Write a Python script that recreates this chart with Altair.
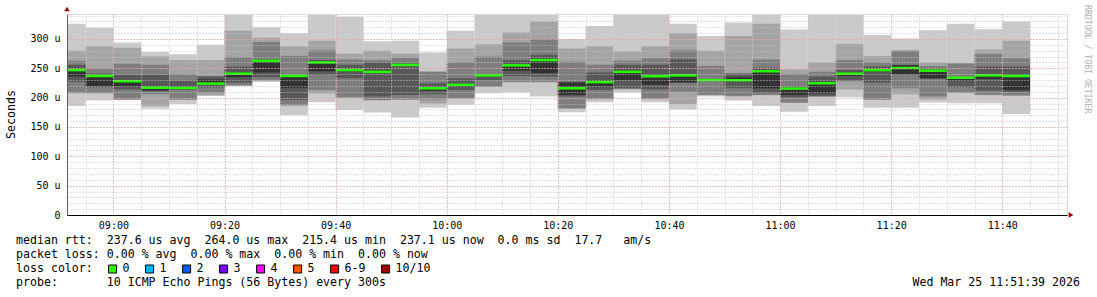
import altair as alt
import pandas as pd

# ---------------- data ----------------
graph_start = "08:51:39"
graph_end = "11:51:39"

bin_start = ["08:50", "08:55", "09:00", "09:05", "09:10", "09:15", "09:20", "09:25", "09:30",
             "09:35", "09:40", "09:45", "09:50", "09:55", "10:00", "10:05", "10:10", "10:15",
             "10:20", "10:25", "10:30", "10:35", "10:40", "10:45", "10:50", "10:55", "11:00",
             "11:05", "11:10", "11:15", "11:20", "11:25", "11:30", "11:35", "11:40"]

# sorted ping round-trip times per 5-minute bin (microseconds)
ping1 = [186, 195, 196, 181, 189, 203, 220, 227, 170, 192, 179, 174.5, 166, 183, 188, 207.5, 209, 202,
         175, 192, 208.6, 192, 180, 202, 195, 186, 176, 186, 200.6, 183, 183, 191.6, 190.5, 190.5, 172]
ping2 = [207, 207, 196.5, 186, 196, 204, 220.5, 228, 186, 207, 200, 195, 196, 190, 198, 218, 226, 226,
         181, 197, 214, 197, 189, 204, 202, 204, 191, 201, 214, 196, 206, 197, 208, 204, 203]
ping3 = [209, 208, 197, 206, 197, 208.5, 221, 230, 187.5, 213, 200.6, 196, 197, 197, 199, 219, 227, 227,
         182, 198, 215, 198, 210, 205, 203, 204.6, 191.6, 202, 228, 197, 216, 202, 208.6, 205, 204]
ping4 = [227, 218, 214, 211, 213, 217.6, 225.5, 235, 196, 239, 233, 202, 204.6, 206, 213, 230, 237, 236,
         202, 213, 216, 214, 225, 228, 216, 208, 200.6, 203, 229, 225.6, 239, 232, 218, 212, 210]
ping5 = [236, 220, 219, 212, 215, 222, 235, 243, 217, 245, 245, 243, 255, 212, 219, 237.5, 246, 242,
         205, 219, 230, 222, 226, 229, 227, 216, 204.6, 207.5, 237, 245, 240, 233, 229, 232, 213]
ping6 = [249, 239, 230, 218, 218, 231, 243, 264, 238, 262, 249, 246, 257, 218, 224, 238.5, 256, 266,
         226, 229, 246, 238, 240, 231, 234.7, 247, 217, 227, 243, 249, 255.5, 247, 235, 240, 240]
ping7 = [256, 241, 239, 239, 229, 236, 253, 266, 239, 264, 256, 260, 258.6, 224.5, 233, 240, 264, 273,
         227, 243, 256, 256, 265, 231.5, 241, 251, 218.5, 236, 247, 253, 256, 250, 235.5, 253, 253]
ping8 = [263, 250, 258, 256, 240, 237, 269, 295, 271, 281, 265, 264, 268, 244, 260, 270, 294, 300,
         261, 256, 263, 267, 281, 254, 241.5, 265, 240, 244, 264, 260, 280, 254, 258, 274.5, 267]
ping9 = [280, 287, 285, 270, 264, 264, 314, 302, 287, 297, 275, 280, 275, 245, 284, 291, 311, 330,
         284, 287, 279, 287, 310, 280, 305, 326, 248, 260, 291.5, 271, 281, 260, 259, 282, 297]
ping10 = [326, 319, 294, 278, 274, 290, 341, 320, 310, 341, 338, 296, 297, 277, 314, 341, 341, 341,
          300, 322, 341, 341, 326, 305, 328, 341, 316, 341, 341, 307, 301, 315, 326, 316.5, 330]
median_rtt = [247, 237, 228, 217, 216.5, 224, 241, 263, 237, 260, 247, 244, 255.7, 216, 222, 238, 255, 264,
              216, 226.5, 244, 236.5, 238, 230, 229.6, 245, 215.5, 224.5, 241, 247, 250.6, 246, 234, 238, 237]

y_ticks = [0, 50, 100, 150, 200, 250, 300]
y_max = 342.6

loss_labels = ["0", "1", "2", "3", "4", "5", "6-9", "10/10"]
loss_colors = ["#26ff00", "#00b8ff", "#0059ff", "#7e00ff", "#ff00ff", "#ff5500", "#ff0000", "#a10000"]

legend_lines = [
    "median rtt:  237.6 us avg  264.0 us max  215.4 us min  237.1 us now  0.0 ms sd  17.7   am/s",
    "packet loss: 0.00 % avg  0.00 % max  0.00 % min  0.00 % now",
    "loss color:",
    "probe:       10 ICMP Echo Pings (56 Bytes) every 300s",
]
stamp = "Wed Mar 25 11:51:39 2026"
watermark = "RRDTOOL / TOBI OETIKER"

# ---------------- styling ----------------
MONO = "DejaVu Sans Mono"
SHADES = ["#cacaca", "#a4a4a4", "#7e7e7e", "#585858", "#323232"]
MINOR_GRID = "#c4c4c4"
MAJOR_GRID = "#f2a0a0"
ARROW = "#990000"
NB = "\u00a0"


def hm(s):
    p = [int(v) for v in s.split(":")]
    return p[0] * 60 + p[1] + (p[2] / 60 if len(p) > 2 else 0)


T0, T1 = hm(graph_start), hm(graph_end)
pings = [ping1, ping2, ping3, ping4, ping5, ping6, ping7, ping8, ping9, ping10]

rows = []
for i, s in enumerate(bin_start):
    t = hm(s)
    for b in range(5):
        rows.append({"t0": t, "t1": t + 5, "lo": pings[b][i], "hi": pings[9 - b][i], "band": b})
smoke = pd.DataFrame(rows)
med = pd.DataFrame({"t0": [hm(s) for s in bin_start],
                    "t1": [hm(s) + 5 for s in bin_start],
                    "med": median_rtt})

xs = alt.Scale(domain=[T0, T1], nice=False, zero=False)
ys = alt.Scale(domain=[0, y_max], nice=False, zero=True)

minor_x = alt.Axis(values=list(range(535, 711, 5)), grid=True, gridColor=MINOR_GRID, gridDash=[1, 2],
                   labels=False, ticks=False, domain=False, orient="bottom", zindex=1, title=None)
minor_y = alt.Axis(values=list(range(0, 341, 10)), grid=True, gridColor=MINOR_GRID, gridDash=[1, 2],
                   labels=False, ticks=False, domain=False, orient="left", zindex=1, title=None)

x_label = ("(floor(datum.value/60) < 10 ? '0' : '') + floor(datum.value/60) + ':' + "
           "(datum.value % 60 < 10 ? '0' : '') + (datum.value % 60)")
major_x = alt.Axis(values=list(range(540, 711, 20)), grid=True, gridColor=MAJOR_GRID, gridDash=[1, 2],
                   labelExpr=x_label, labelFont=MONO, labelFontSize=10, labelColor="#000000",
                   labelPadding=5, ticks=False, tickSize=0, domain=True, domainColor="#000000",
                   domainWidth=1, orient="bottom", zindex=1, labelOverlap=False, labelFlush=False,
                   title=None)
y_label = "datum.value == 0 ? '0" + NB + NB + "' : datum.value + '" + NB + "u'"
major_y = alt.Axis(values=y_ticks, grid=True, gridColor=MAJOR_GRID, gridDash=[1, 2],
                   labelExpr=y_label, labelFont=MONO, labelFontSize=10, labelColor="#000000",
                   labelPadding=7, ticks=False, tickSize=0, domain=True, domainColor="#606060",
                   domainWidth=1, orient="left", zindex=1, labelOverlap=False, labelFlush=False,
                   title="Seconds", titleFont=MONO, titleFontSize=11.6, titleFontWeight="normal",
                   titleColor="#000000", titleAngle=270, titleAlign="center", titleBaseline="middle",
                   titleX=-56, titleY=100)

smoke_layer = alt.Chart(smoke).mark_rect(clip=True).encode(
    x=alt.X("t0:Q", scale=xs, axis=minor_x),
    x2="t1:Q",
    y=alt.Y("lo:Q", scale=ys, axis=minor_y),
    y2="hi:Q",
    color=alt.Color("band:O", scale=alt.Scale(domain=[0, 1, 2, 3, 4], range=SHADES), legend=None),
    order=alt.Order("band:Q", sort="ascending"),
)

median_layer = alt.Chart(med).mark_rule(clip=True, color=loss_colors[0], strokeWidth=2.5).encode(
    x=alt.X("t0:Q", scale=xs, axis=major_x),
    x2="t1:Q",
    y=alt.Y("med:Q", scale=ys, axis=major_y),
)

one = pd.DataFrame({"k": [0]})
decor = []

# axis arrows
decor.append(alt.Chart(one).mark_point(shape="triangle-up", filled=True, color=ARROW, size=30, opacity=1)
             .encode(x=alt.value(0), y=alt.value(-5)))
decor.append(alt.Chart(one).mark_point(shape="triangle-right", filled=True, color=ARROW, size=30, opacity=1)
             .encode(x=alt.value(1004), y=alt.value(201)))

# legend text lines
for j, line in enumerate(legend_lines):
    decor.append(alt.Chart(pd.DataFrame({"t": [line.replace(" ", NB)]})).mark_text(
        align="left", baseline="middle", font=MONO, fontSize=11.6, color="#000000"
    ).encode(x=alt.value(-51), y=alt.value(227 + 14 * j), text="t:N"))

# loss colour swatches
left = 108.6 - 67
for lab, col in zip(loss_labels, loss_colors):
    decor.append(alt.Chart(one).mark_rect(fill=col, stroke="#000000", strokeWidth=1).encode(
        x=alt.value(left), x2=alt.value(left + 8), y=alt.value(251), y2=alt.value(259)))
    decor.append(alt.Chart(pd.DataFrame({"t": [lab]})).mark_text(
        align="left", baseline="middle", font=MONO, fontSize=11.6, color="#000000"
    ).encode(x=alt.value(left + 14), y=alt.value(255), text="t:N"))
    left += 30 + 7 * len(lab)

# timestamp
decor.append(alt.Chart(pd.DataFrame({"t": [stamp]})).mark_text(
    align="right", baseline="middle", font=MONO, fontSize=11.6, color="#000000"
).encode(x=alt.value(1013), y=alt.value(269), text="t:N"))

# watermark
decor.append(alt.Chart(pd.DataFrame({"t": [watermark]})).mark_text(
    align="left", baseline="middle", font=MONO, fontSize=8.2, color="#b0b0b0", angle=90
).encode(x=alt.value(1020), y=alt.value(-9), text="t:N"))

chart = alt.layer(smoke_layer, median_layer, *decor).resolve_axis(
    x="independent", y="independent"
).properties(
    width=1000, height=201,
    padding={"left": 67, "top": 14, "right": 30, "bottom": 82},
    autosize=alt.AutoSizeParams(type="none"),
    background="#ffffff",
).configure_view(stroke="transparent").configure(font=MONO)

chart.save("out.html", embed_options={"renderer": "svg", "actions": False})
